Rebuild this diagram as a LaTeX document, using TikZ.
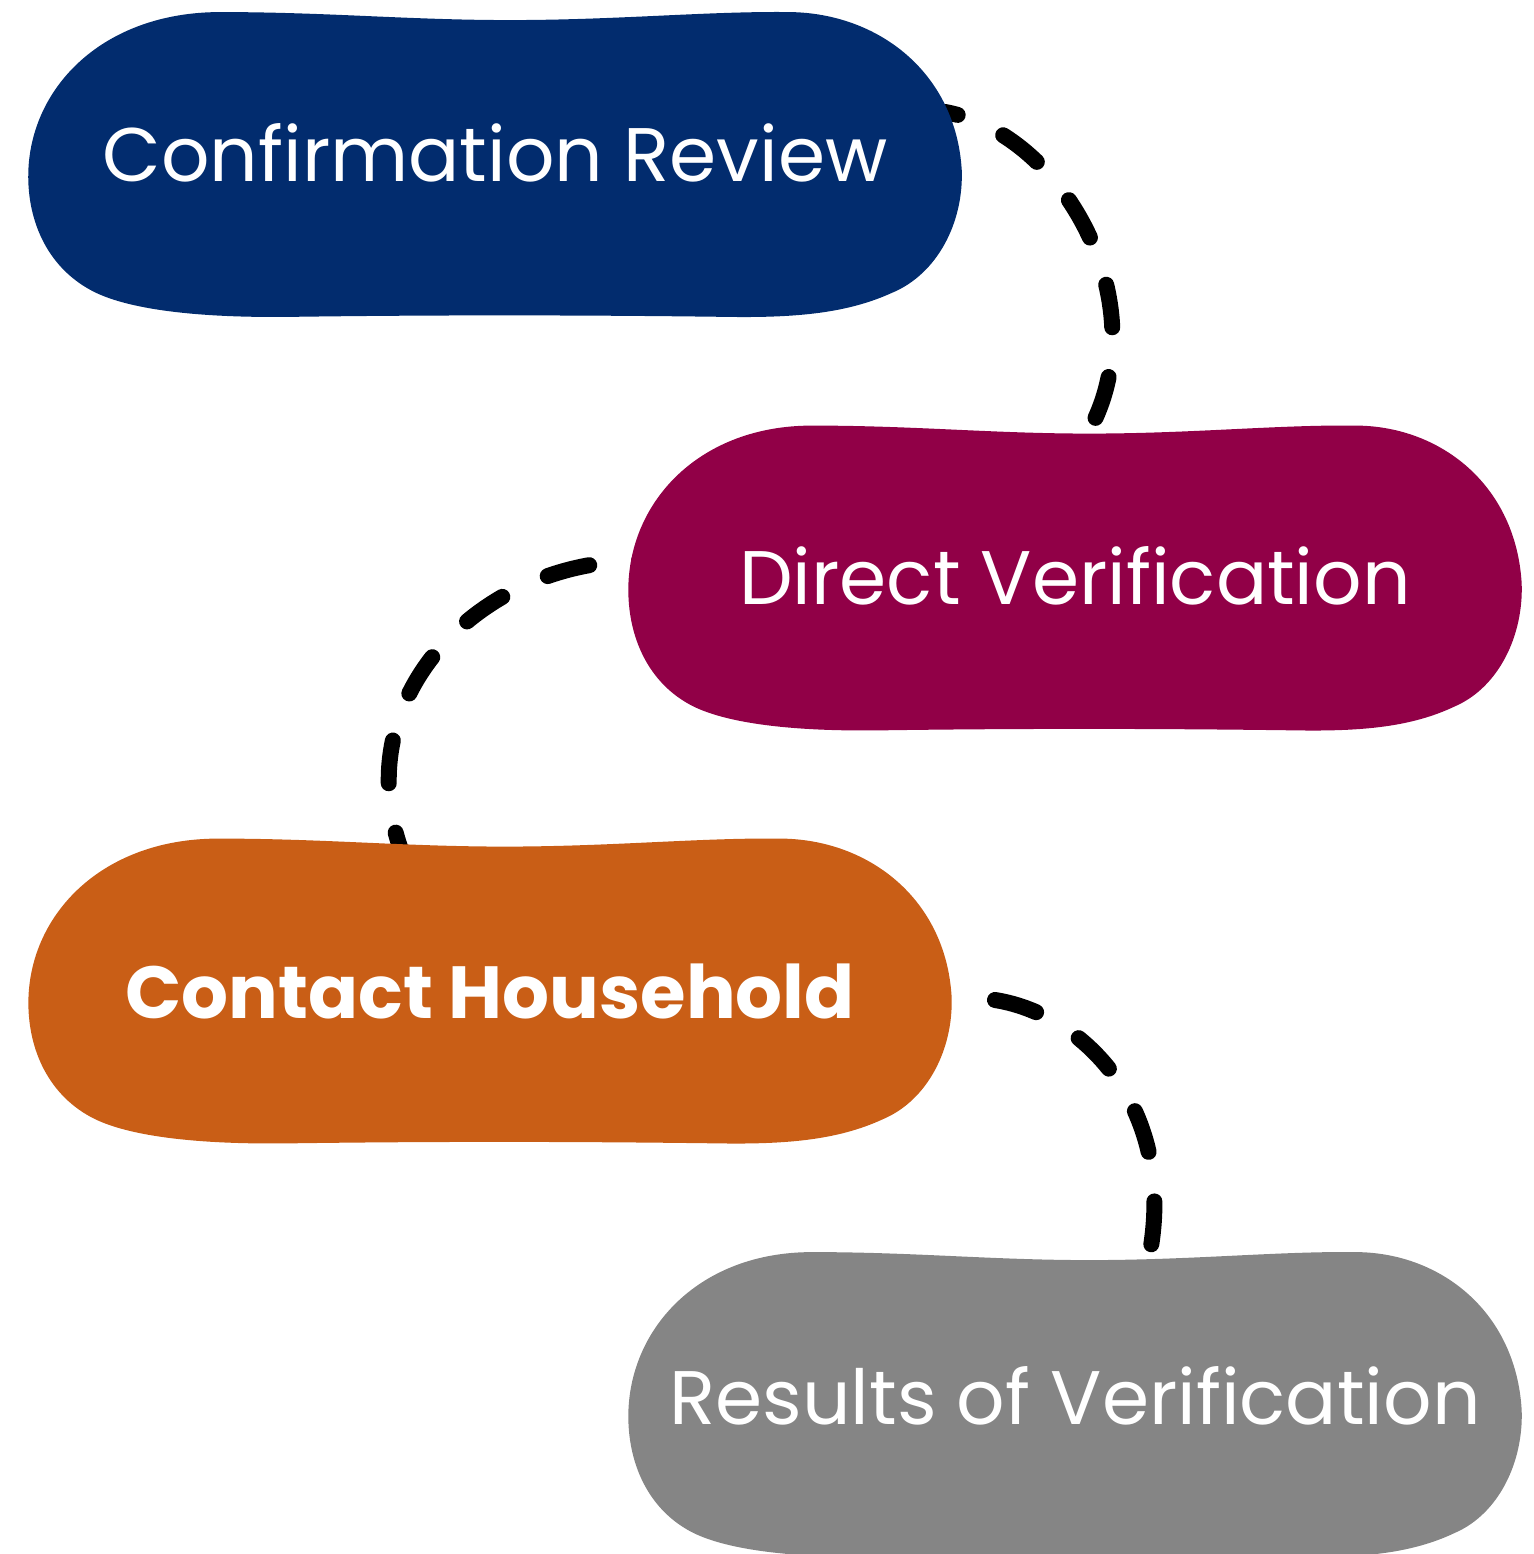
\documentclass[tikz,border=0pt]{standalone}
\usepackage{fontspec}
\setmainfont{Poppins}
\usepackage{tikz}
\usetikzlibrary{positioning,calc}

\definecolor{reviewblue}{RGB}{2,44,110}
\definecolor{directred}{RGB}{145,0,71}
\definecolor{contactorange}{RGB}{201,94,22}
\definecolor{resultsgray}{RGB}{133,133,133}

\newcommand\steptext{\fontsize{21.6pt}{26pt}\selectfont}
\newcommand\boldtext{\fontsize{21pt}{26pt}\selectfont\bfseries}

\pgfdeclarelayer{bg}
\pgfdeclarelayer{blobs}
\pgfsetlayers{bg,blobs,main}

% outline of one blob, 934 x 306 units, origin top left
\def\blobpath{(0,161) .. controls (2,75) and (75,0) .. (192,0)
  .. controls (300,0) and (380,8) .. (482,8)
  .. controls (590,8) and (680,-1) .. (762,0)
  .. controls (850,1) and (928,60) .. (934,158)
  .. controls (936,210) and (910,262) .. (864,281)
  .. controls (820,301) and (770,306) .. (700,305)
  .. controls (550,303) and (400,303) .. (260,305)
  .. controls (160,306) and (100,296) .. (68,281)
  .. controls (20,258) and (-1,210) .. cycle}

\tikzset{
  stepbox/.style={minimum height=3.06cm, inner sep=0pt, outer sep=0pt,
    text=white, font=\steptext, text height=0.53cm, text depth=0pt},
  link/.style={line width=0.16cm, line cap=round, dash pattern=on 0.43cm off 0.50cm}
}

\begin{document}
\begin{tikzpicture}
\useasboundingbox (0,0) rectangle (15.34,-15.54);

\node[stepbox, minimum width=9.34cm, text depth=0.2cm] (review) at (4.95,-1.65) {Confirmation Review};
\node[stepbox, minimum width=8.94cm] (direct) at (10.75,-5.785) {Direct Verification};
\node[stepbox, minimum width=9.24cm, font=\boldtext] (contact) at (4.90,-9.915) {Contact Household};
\node[stepbox, minimum width=8.94cm, text depth=0.14cm] (results) at (10.75,-14.05) {Results of Verification};

% blobs behind the labels
\begin{pgfonlayer}{blobs}
  \foreach \n/\c/\w in {review/reviewblue/1, direct/directred/0.957,
                        contact/contactorange/0.989, results/resultsgray/0.957}
    \fill[\c, shift={(\n.center)}, xscale=\w, x=0.01cm, y=-0.01cm, shift={(-467,-153)}] \blobpath;
\end{pgfonlayer}

\begin{pgfonlayer}{bg}
  \draw[link, dash phase=0.30cm] ([shift={(-0.17,0.53)}]review.east)
    .. controls +(1.25,-0.23) and +(0.85,1.25) .. ([shift={(0.05,-0.20)}]direct.north);
  \draw[link, dash phase=0.42cm] ([shift={(0.12,0.175)}]direct.west)
    .. controls +(-1.60,0.02) and +(-0.65,1.60) .. ([shift={(-0.85,-0.22)}]contact.north);
  \draw[link] ([shift={(0.43,-0.085)}]contact.east)
    .. controls +(0.95,-0.15) and +(0.40,1.55) .. ([shift={(0.70,-0.23)}]results.north);
\end{pgfonlayer}
\end{tikzpicture}
\end{document}
